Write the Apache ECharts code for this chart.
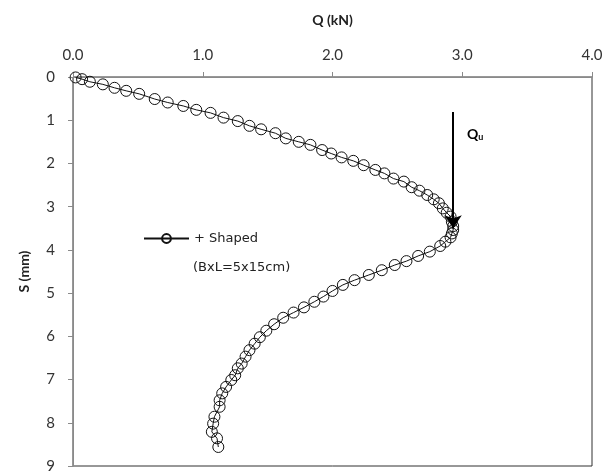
<!DOCTYPE html>
<html>
<head>
<meta charset="utf-8">
<script src="https://cdn.jsdelivr.net/npm/echarts@6/dist/echarts.min.js"></script>
<style>
  html, body { margin: 0; padding: 0; background: #fff; }
  #chart { width: 616px; height: 474px; }
</style>
</head>
<body>
<div id="chart"></div>
<script>
// load Q (kN) and settlement S (mm), in test order
const qValues = [
  0.02, 0.07, 0.13, 0.23, 0.32, 0.41, 0.51, 0.63, 0.73, 0.85,
  0.95, 1.06, 1.16, 1.27, 1.36, 1.45, 1.56, 1.64, 1.74, 1.83,
  1.92, 1.99, 2.07, 2.16, 2.24, 2.33, 2.40, 2.47, 2.55, 2.61,
  2.67, 2.73, 2.78, 2.82, 2.85, 2.88, 2.91, 2.92, 2.93, 2.93,
  2.92, 2.91, 2.87, 2.83, 2.75, 2.66, 2.57, 2.48, 2.38, 2.28,
  2.17, 2.08, 2.00, 1.93, 1.86, 1.78, 1.70, 1.62, 1.55, 1.49,
  1.44, 1.40, 1.36, 1.33, 1.30, 1.27, 1.25, 1.22, 1.18, 1.15,
  1.13, 1.13, 1.09, 1.08, 1.07, 1.11, 1.12
]
const sValues = [
  0.01, 0.05, 0.11, 0.17, 0.25, 0.32, 0.39, 0.51, 0.59, 0.67,
  0.76, 0.83, 0.94, 1.02, 1.13, 1.21, 1.30, 1.42, 1.50, 1.57,
  1.69, 1.77, 1.86, 1.94, 2.04, 2.15, 2.23, 2.35, 2.42, 2.55,
  2.63, 2.73, 2.83, 2.92, 3.04, 3.14, 3.23, 3.35, 3.45, 3.54,
  3.62, 3.71, 3.81, 3.91, 4.04, 4.14, 4.26, 4.35, 4.47, 4.58,
  4.70, 4.81, 4.95, 5.08, 5.20, 5.33, 5.45, 5.57, 5.72, 5.87,
  6.02, 6.17, 6.32, 6.47, 6.63, 6.74, 6.90, 7.01, 7.17, 7.32,
  7.48, 7.63, 7.86, 8.02, 8.21, 8.36, 8.56
]
// ultimate load arrow: from S start to S tip at Qu
const arrowQ = 2.93
const arrowS = [0.81, 3.5]

const chart = echarts.init(document.getElementById('chart'))

const option = {
  animation: false,
  backgroundColor: '#fff',
  textStyle: { fontFamily: 'Lato' },
  grid: {
    left: 73, right: 24, top: 77, bottom: 8,
    show: true, borderColor: '#303030', borderWidth: 1
  },
  legend: {
    left: 143, top: 232, padding: 0,
    itemWidth: 45, itemHeight: 11, itemGap: 5,
    textStyle: { fontFamily: 'DejaVu Sans', fontSize: 13, color: '#222', padding: [0, 0, 0, 0] },
    data: ['+ Shaped']
  },
  graphic: [{
    type: 'text', left: 193, top: 261,
    style: { text: '(BxL=5x15cm)', font: '13px "DejaVu Sans"', fill: '#222' }
  }],
  xAxis: {
    type: 'value', position: 'top',
    min: 0, max: 4, interval: 1,
    name: 'Q (kN)', nameLocation: 'middle', nameGap: 50,
    nameTextStyle: { fontWeight: 'bold', fontSize: 14, color: '#222' },
    axisLine: { lineStyle: { color: '#8a8a8a' } },
    axisTick: { show: true, length: 5, lineStyle: { color: '#8a8a8a' } },
    axisLabel: { fontSize: 15, color: '#333', margin: 14, formatter: v => v.toFixed(1) },
    splitLine: { show: false }
  },
  yAxis: {
    type: 'value', inverse: true,
    min: 0, max: 9, interval: 1,
    name: 'S (mm)', nameLocation: 'middle', nameGap: 42,
    nameTextStyle: { fontWeight: 'bold', fontSize: 14, color: '#222' },
    axisLine: { show: true, lineStyle: { color: '#8a8a8a' } },
    axisTick: { show: true, length: 5, lineStyle: { color: '#8a8a8a' } },
    axisLabel: { fontSize: 15, color: '#333', margin: 18 },
    splitLine: { show: false }
  },
  series: [{
    name: '+ Shaped',
    type: 'line',
    data: qValues.map((q, i) => [q, sValues[i]]),
    symbol: 'circle', symbolSize: 11,
    itemStyle: { color: 'rgba(0,0,0,0)', borderColor: '#111', borderWidth: 1 },
    lineStyle: { color: '#111', width: 1 },
    markLine: {
      silent: true,
      symbol: ['none', 'arrow'], symbolSize: 13,
      lineStyle: { color: '#000', width: 2, type: 'solid' },
      label: { show: false },
      data: [[{ coord: [arrowQ, arrowS[0]] }, { coord: [arrowQ, arrowS[1]] }]]
    },
    markPoint: {
      silent: true,
      symbol: 'circle', symbolSize: 0,
      label: {
        show: true, position: 'inside',
        formatter: '{q|Q}{u|u}',
        rich: {
          q: { fontWeight: 'bold', fontSize: 14, color: '#000', fontFamily: 'Lato' },
          u: { fontWeight: 'bold', fontSize: 9, color: '#000', fontFamily: 'Lato', verticalAlign: 'bottom', padding: [6, 0, 0, 0] }
        }
      },
      data: [{ coord: [3.1, 1.32] }]
    }
  }]
}

chart.setOption(option)
</script>
</body>
</html>
